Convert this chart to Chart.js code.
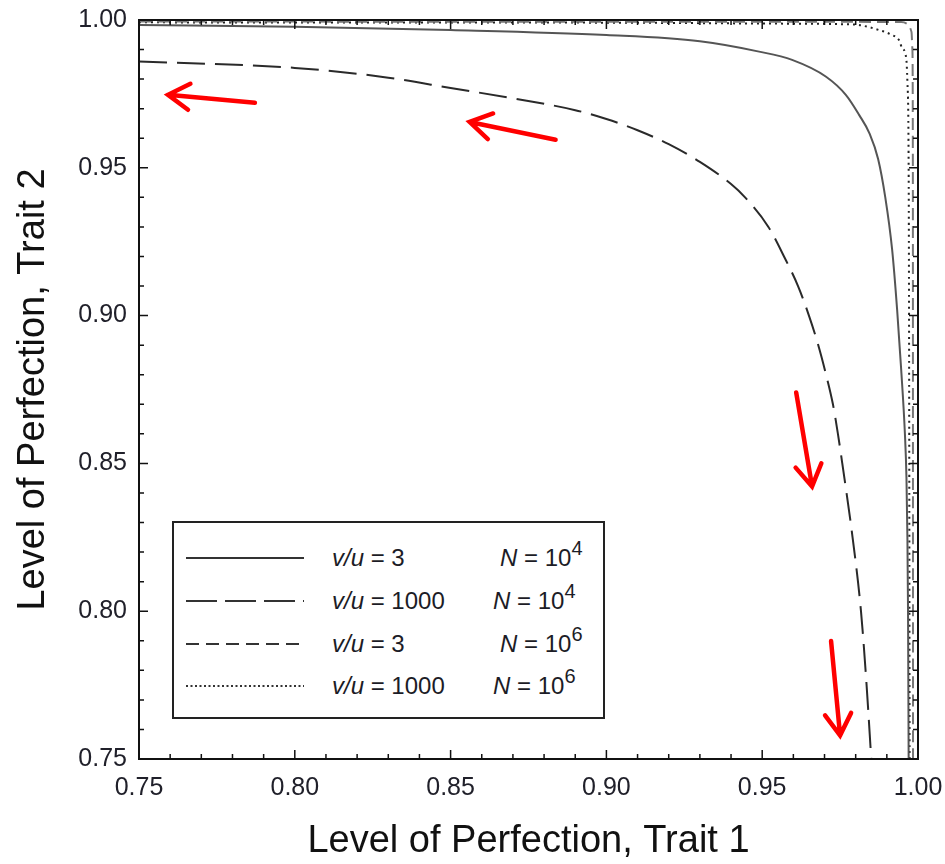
<!DOCTYPE html>
<html lang="en">
  <head>
    <meta charset="utf-8">
    <title>Level of Perfection</title>
    <script src="https://cdn.jsdelivr.net/npm/chart.js@4.4.1/dist/chart.umd.min.js"></script>
    <style>
      body { margin: 0; background: #fff; font-family: "Liberation Sans", Arial, sans-serif; }
      div.wrap { position: relative; width: 945px; height: 864px; }
      div.key { position: absolute; left: 172px; top: 521px; width: 429px; height: 194px; border: 2px solid #222; background: #fff; }
      div.row { position: absolute; left: 0; width: 100%; height: 30px; line-height: 30px; font-size: 24px; color: #1c1c26; }
      div.row svg { position: absolute; left: 12px; top: 12px; }
      div.row span { position: absolute; white-space: nowrap; }
      div.row sup { font-size: 20px; vertical-align: baseline; position: relative; top: -11px; }
    </style>
  </head>
  <body>
    <div class="wrap">
      <canvas id="chart-1"></canvas>

      <div class="key">
        <div class="row" style="top:20px">
          <svg width="120" height="6"><line x1="0" y1="3" x2="118" y2="3" stroke="#333" stroke-width="2"/></svg>
          <span style="left:158px"><i>v/u</i> = 3</span>
          <span style="left:326px"><i>N</i> = 10<sup>4</sup></span>
        </div>
        <div class="row" style="top:63px">
          <svg width="120" height="6"><line x1="0" y1="3" x2="118" y2="3" stroke="#333" stroke-width="2" stroke-dasharray="31 8"/></svg>
          <span style="left:158px"><i>v/u</i> = 1000</span>
          <span style="left:319px"><i>N</i> = 10<sup>4</sup></span>
        </div>
        <div class="row" style="top:106px">
          <svg width="120" height="6"><line x1="0" y1="3" x2="118" y2="3" stroke="#333" stroke-width="2" stroke-dasharray="13 7"/></svg>
          <span style="left:158px"><i>v/u</i> = 3</span>
          <span style="left:326px"><i>N</i> = 10<sup>6</sup></span>
        </div>
        <div class="row" style="top:148px">
          <svg width="120" height="6"><line x1="0" y1="3" x2="118" y2="3" stroke="#333" stroke-width="2" stroke-dasharray="2 2.5"/></svg>
          <span style="left:158px"><i>v/u</i> = 1000</span>
          <span style="left:319px"><i>N</i> = 10<sup>6</sup></span>
        </div>
      </div>
    </div>

    <script>
      // v/u = 3, N = 10^4 (solid)
      const xSolid = [0.75, 0.80, 0.85, 0.90, 0.93, 0.949, 0.9596, 0.9705, 0.9769, 0.9811, 0.9845, 0.9872, 0.9895, 0.9917, 0.9933, 0.9946, 0.9958, 0.9963, 0.9966, 0.9968, 0.997];
      const ySolid = [0.9983, 0.9977, 0.9966, 0.9949, 0.9928, 0.9893, 0.9865, 0.9808, 0.9746, 0.9679, 0.9615, 0.953, 0.940, 0.9223, 0.902, 0.8818, 0.86, 0.845, 0.825, 0.80, 0.75];

      // v/u = 1000, N = 10^4 (long dash)
      const xLong = [0.75, 0.80, 0.83, 0.85, 0.87, 0.89, 0.90, 0.91, 0.92, 0.93, 0.94, 0.9445, 0.952, 0.957, 0.9615, 0.965, 0.968, 0.9705, 0.9727, 0.9743, 0.9757, 0.979, 0.9817, 0.9835, 0.985];
      const yLong = [0.986, 0.9838, 0.9805, 0.977, 0.9735, 0.9695, 0.9665, 0.9627, 0.958, 0.952, 0.9445, 0.94, 0.93, 0.92, 0.91, 0.90, 0.89, 0.88, 0.87, 0.86, 0.85, 0.825, 0.80, 0.775, 0.75];

      // v/u = 3, N = 10^6 (short dash)
      const xShort = [0.75, 0.90, 0.96, 0.9946, 0.9966, 0.9973, 0.9979, 0.9982, 0.99835, 0.9984];
      const yShort = [0.9995, 0.9994, 0.9994, 0.9993, 0.9986, 0.9977, 0.996, 0.99, 0.95, 0.75];

      // v/u = 1000, N = 10^6 (dotted)
      const xDot = [0.75, 0.90, 0.95, 0.975, 0.981, 0.9875, 0.9917, 0.9939, 0.9949, 0.9962, 0.9966, 0.997, 0.9972, 0.9973];
      const yDot = [0.9992, 0.9991, 0.9988, 0.9986, 0.9983, 0.9966, 0.9949, 0.9932, 0.9905, 0.9872, 0.979, 0.95, 0.85, 0.75];

      const tickLabels = ['0.75', '0.80', '0.85', '0.90', '0.95', '1.00'];

      // red arrows, [tailX, tailY, headX, headY] in data units
      const arrows = [
        [0.7872, 0.9720, 0.7593, 0.9747],
        [0.8837, 0.9595, 0.8561, 0.9655],
        [0.9609, 0.8740, 0.9660, 0.8422],
        [0.9721, 0.7899, 0.9750, 0.7580]
      ];

      function pts(xs, ys) {
        return xs.map(function (v, i) { return {x: v, y: ys[i]}; });
      }

      const frame = {
        id: 'frame',
        afterDatasetsDraw(chart) {
          const ctx = chart.ctx, a = chart.chartArea, sx = chart.scales.x, sy = chart.scales.y;
          ctx.save();
          ctx.strokeStyle = '#111';
          ctx.lineWidth = 1.5;
          ctx.beginPath();
          for (let i = 0; i <= 25; i++) {
            const v = 0.75 + i * 0.01;
            const len = i % 5 === 0 ? 9 : 5;
            const px = sx.getPixelForValue(v), py = sy.getPixelForValue(v);
            ctx.moveTo(px, a.bottom); ctx.lineTo(px, a.bottom - len);
            ctx.moveTo(px, a.top); ctx.lineTo(px, a.top + len);
            ctx.moveTo(a.left, py); ctx.lineTo(a.left + len, py);
            ctx.moveTo(a.right, py); ctx.lineTo(a.right - len, py);
          }
          ctx.stroke();
          ctx.lineWidth = 2;
          ctx.strokeRect(a.left, a.top, a.right - a.left, a.bottom - a.top);

          ctx.strokeStyle = '#ff0000';
          ctx.lineWidth = 4.5;
          ctx.lineCap = 'round';
          arrows.forEach(function (r) {
            const x1 = sx.getPixelForValue(r[0]), y1 = sy.getPixelForValue(r[1]);
            const x2 = sx.getPixelForValue(r[2]), y2 = sy.getPixelForValue(r[3]);
            const ang = Math.atan2(y2 - y1, x2 - x1);
            ctx.beginPath();
            ctx.moveTo(x1, y1); ctx.lineTo(x2, y2);
            ctx.moveTo(x2 - 25 * Math.cos(ang - 0.55), y2 - 25 * Math.sin(ang - 0.55));
            ctx.lineTo(x2, y2);
            ctx.lineTo(x2 - 25 * Math.cos(ang + 0.55), y2 - 25 * Math.sin(ang + 0.55));
            ctx.stroke();
          });
          ctx.restore();
        }
      };

      const tickFont = {family: '"Liberation Sans", Arial, sans-serif', size: 25};
      const titleFont = {family: '"Liberation Sans", Arial, sans-serif', size: 38, lineHeight: 1};

      new Chart(document.getElementById('chart-1'), {
        type: 'scatter',
        data: {
          datasets: [
            {data: pts(xSolid, ySolid), borderColor: '#555', borderWidth: 2},
            {data: pts(xLong, yLong), borderColor: '#2a2a2a', borderWidth: 2, borderDash: [28, 10]},
            {data: pts(xShort, yShort), borderColor: '#777', borderWidth: 2, borderDash: [12, 6]},
            {data: pts(xDot, yDot), borderColor: '#222', borderWidth: 2, borderDash: [2, 4]}
          ]
        },
        options: {
          responsive: true,
          maintainAspectRatio: false,
          animation: false,
          showLine: true,
          elements: {point: {radius: 0}, line: {cubicInterpolationMode: 'monotone'}},
          layout: {padding: {top: 20, right: 27, left: 0, bottom: 0}},
          plugins: {legend: {display: false}, tooltip: {enabled: false}},
          scales: {
            x: {
              type: 'linear', min: 0.75, max: 1.0,
              afterFit: function (s) { s.height = 105; s.paddingLeft = 0; s.paddingRight = 0; },
              grid: {display: false, drawTicks: false},
              border: {display: false},
              ticks: {
                stepSize: 0.05, padding: 14, color: '#20202a', font: tickFont, maxRotation: 0,
                callback: function (v) { return tickLabels[Math.round((v - 0.75) / 0.05)]; }
              },
              title: {display: true, text: 'Level of Perfection, Trait 1', color: '#111', font: titleFont, padding: {top: 0, bottom: 3}}
            },
            y: {
              type: 'linear', min: 0.75, max: 1.0,
              afterFit: function (s) { s.width = 139; s.paddingTop = 0; s.paddingBottom = 0; },
              grid: {display: false, drawTicks: false},
              border: {display: false},
              ticks: {
                stepSize: 0.05, padding: 12, color: '#20202a', font: tickFont,
                callback: function (v) { return tickLabels[Math.round((v - 0.75) / 0.05)]; }
              },
              title: {display: true, text: 'Level of Perfection, Trait 2', color: '#111', font: titleFont, padding: {top: 15, bottom: 0}}
            }
          }
        },
        plugins: [frame]
      });
    </script>
  </body>
</html>
